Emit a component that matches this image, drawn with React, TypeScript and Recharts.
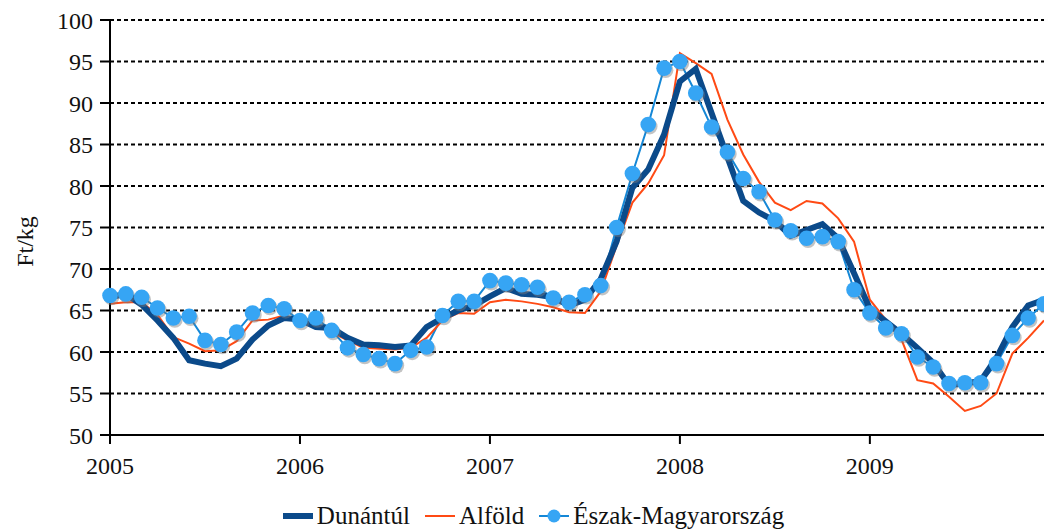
import React from "react";
import { LineChart, Line, XAxis, YAxis, CartesianGrid, Legend, Label } from "recharts";

// havi átlagárak, 2005. jan - 2009. dec (Ft/kg)
const months: string[] = [];
for (let y = 2005; y <= 2009; y++) {
  for (let m = 1; m <= 12; m++) months.push(`${y}-${m < 10 ? "0" + m : m}`);
}

const dunantul = [
  66.6, 67.0, 65.7, 63.8, 61.7, 59.0, 58.6, 58.3, 59.2, 61.5, 63.2, 64.1,
  63.9, 63.0, 62.9, 61.7, 60.9, 60.8, 60.6, 60.8, 63.0, 64.1, 65.0, 65.6,
  66.7, 67.7, 67.0, 66.9, 66.6, 65.6, 66.3, 68.8, 73.3, 79.8, 82.0, 86.2,
  92.6, 94.1, 88.8, 83.5, 78.2, 76.8, 75.8, 74.0, 74.7, 75.4, 73.7, 69.5,
  65.2, 63.7, 62.2, 60.5, 58.7, 56.0, 56.2, 56.5, 59.3, 63.0, 65.6, 66.3,
];

const alfold = [
  65.8, 66.0, 66.0, 64.5, 61.8, 61.0, 60.1, 60.2, 61.3, 63.8, 63.9, 64.4,
  63.8, 63.1, 62.4, 61.4, 60.5, 60.4, 60.3, 60.5, 61.7, 63.8, 64.7, 64.6,
  66.0, 66.3, 66.1, 65.8, 65.4, 64.8, 64.7, 67.3, 72.8, 78.0, 80.3, 83.7,
  96.0, 94.8, 93.5, 88.0, 83.8, 80.5, 78.0, 77.1, 78.2, 77.9, 76.1, 73.3,
  66.3, 63.9, 61.5, 56.6, 56.2, 54.6, 52.9, 53.5, 55.0, 59.8, 61.7, 63.8,
];

const eszak = [
  66.8, 67.0, 66.6, 65.3, 64.1, 64.3, 61.4, 60.9, 62.4, 64.7, 65.6, 65.2,
  63.8, 64.1, 62.6, 60.5, 59.7, 59.2, 58.6, 60.2, 60.6, 64.4, 66.1, 66.1,
  68.6, 68.3, 68.1, 67.8, 66.5, 66.0, 66.9, 68.0, 75.0, 81.5, 87.4, 94.2,
  95.0, 91.2, 87.1, 84.1, 80.9, 79.3, 75.9, 74.6, 73.7, 73.9, 73.3, 67.5,
  64.7, 62.9, 62.2, 59.4, 58.2, 56.2, 56.3, 56.3, 58.6, 62.0, 64.1, 65.8,
];

const yTicks = [50, 55, 60, 65, 70, 75, 80, 85, 90, 95, 100];

const data = months.map((m, i) => ({
  month: m,
  dunantul: dunantul[i],
  alfold: alfold[i],
  eszak: eszak[i],
}));

const NAVY = "#0b4a8a";
const RED = "#ff4a14";
const BLUE_LINE = "#1487d6";
const BLUE_DOT = "#36a5f4";
const FONT = "Liberation Serif, DejaVu Serif, Times New Roman, serif";

const renderDot = (props: any) => {
  const { cx, cy, index } = props;
  if (cx == null || cy == null) return <g key={`d${index}`} />;
  return (
    <g key={`d${index}`}>
      <circle cx={cx + 1.5} cy={cy + 2} r={7.8} fill="#7a7a7a" opacity={0.45} />
      <circle cx={cx} cy={cy} r={7.8} fill={BLUE_DOT} />
    </g>
  );
};

const renderLegend = () => (
  <div
    style={{
      display: "flex",
      justifyContent: "center",
      alignItems: "center",
      paddingLeft: 22,
      fontFamily: FONT,
      fontSize: 25,
      color: "#111",
      lineHeight: "28px",
    }}
  >
    <svg width={32} height={12} style={{ marginRight: 3 }}>
      <line x1={1} y1={6} x2={31} y2={6} stroke={NAVY} strokeWidth={6} />
    </svg>
    <span style={{ marginRight: 14 }}>Dunántúl</span>
    <svg width={32} height={12} style={{ marginRight: 3 }}>
      <line x1={1} y1={6} x2={31} y2={6} stroke={RED} strokeWidth={2} />
    </svg>
    <span style={{ marginRight: 14 }}>Alföld</span>
    <svg width={32} height={16} style={{ marginRight: 3 }}>
      <line x1={1} y1={8} x2={31} y2={8} stroke={BLUE_LINE} strokeWidth={2} />
      <circle cx={16} cy={8} r={6.5} fill={BLUE_DOT} />
    </svg>
    <span>Észak-Magyarország</span>
  </div>
);

const renderYLabel = (props: any) => {
  const vb = props.viewBox || { x: 0, y: 0, height: 0 };
  const cx = vb.x + 33;
  const cy = vb.y + vb.height / 2 + 14;
  return (
    <text
      x={cx}
      y={cy}
      transform={`rotate(-90 ${cx} ${cy})`}
      textAnchor="middle"
      fontFamily={FONT}
      fontSize={24}
      fill="#111"
    >
      Ft/kg
    </text>
  );
};

export default function App() {
  return (
    <div style={{ position: "absolute", left: 0, top: 0, width: 1044, height: 531, background: "#fff" }}>
      <LineChart width={1044} height={531} data={data} margin={{ top: 20, right: 0, bottom: 0, left: 0 }}>
        <CartesianGrid vertical={false} stroke="#000" strokeWidth={2} strokeDasharray="4 3" />
        <XAxis
          dataKey="month"
          interval={11}
          height={96}
          tickFormatter={(v: string) => v.slice(0, 4)}
          axisLine={{ stroke: "#000", strokeWidth: 2 }}
          tickLine={{ stroke: "#000", strokeWidth: 2 }}
          tickSize={9}
          tickMargin={13}
          tick={{ fill: "#111", fontFamily: FONT, fontSize: 24 }}
        />
        <YAxis
          domain={[50, 100]}
          ticks={yTicks}
          width={110}
          axisLine={{ stroke: "#000", strokeWidth: 2 }}
          tickLine={{ stroke: "#000", strokeWidth: 2 }}
          tickSize={10}
          tickMargin={7}
          tick={{ fill: "#111", fontFamily: FONT, fontSize: 24 }}
        >
          <Label content={renderYLabel} />
        </YAxis>
        <Legend
          verticalAlign="middle"
          align="center"
          content={renderLegend}
          wrapperStyle={{ top: 502, left: 0, width: 1044 }}
        />
        <Line
          type="linear"
          dataKey="eszak"
          name="Észak-Magyarország"
          stroke={BLUE_LINE}
          strokeWidth={2}
          dot={renderDot}
          activeDot={false}
          isAnimationActive={false}
        />
        <Line
          type="linear"
          dataKey="alfold"
          name="Alföld"
          stroke={RED}
          strokeWidth={2}
          dot={false}
          activeDot={false}
          isAnimationActive={false}
        />
        <Line
          type="linear"
          dataKey="dunantul"
          name="Dunántúl"
          stroke={NAVY}
          strokeWidth={6}
          dot={false}
          activeDot={false}
          isAnimationActive={false}
        />
      </LineChart>
    </div>
  );
}
